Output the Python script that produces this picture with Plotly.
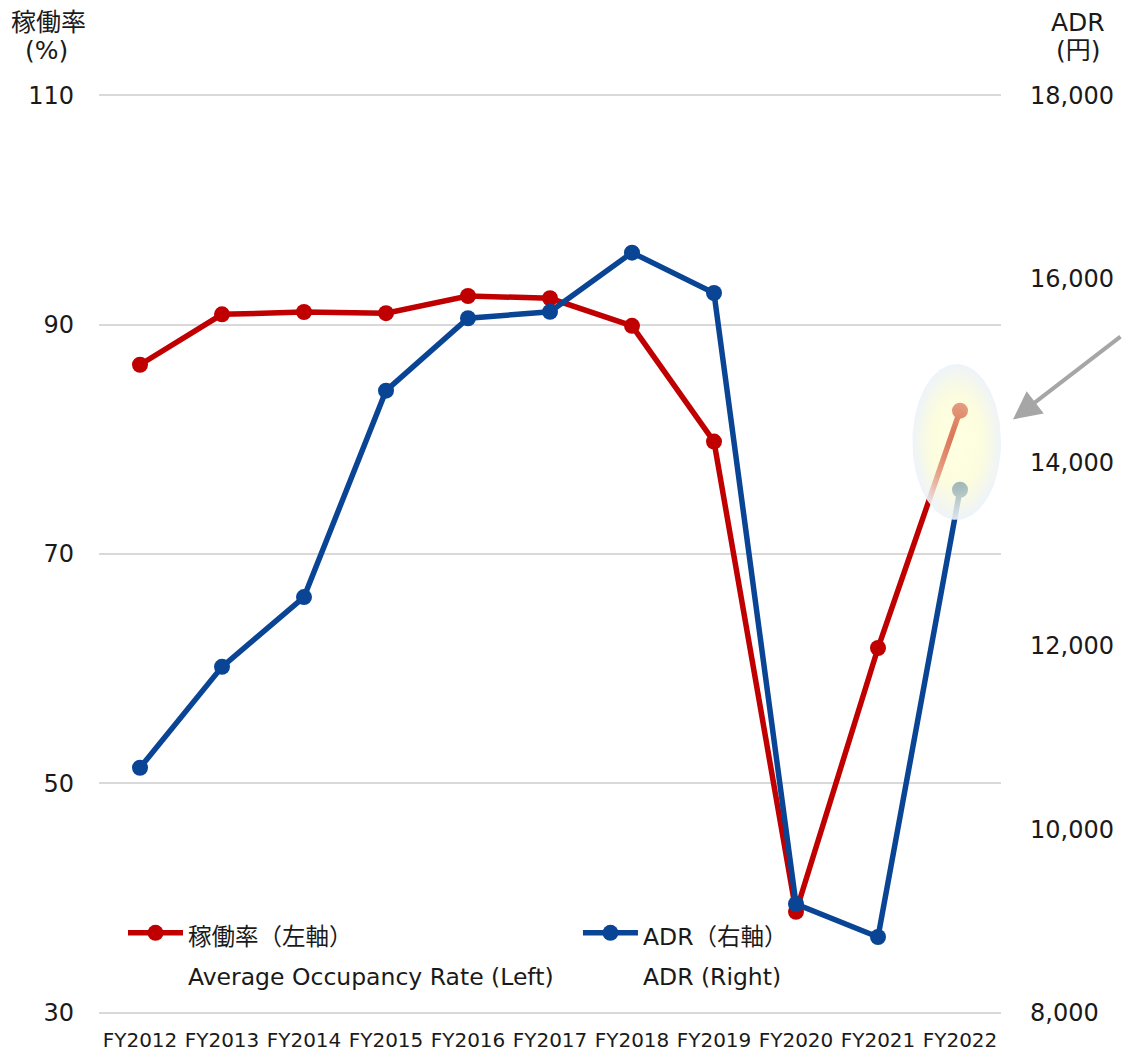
import numpy as np
import plotly.graph_objects as go

# Fiscal years and the two series (occupancy on the left axis, ADR on the right)
fiscal_years = ["FY2012", "FY2013", "FY2014", "FY2015", "FY2016", "FY2017",
                "FY2018", "FY2019", "FY2020", "FY2021", "FY2022"]
occupancy_rate = [86.5, 90.9, 91.1, 91.0, 92.5, 92.3, 89.9, 79.8, 38.8, 61.8, 82.5]
adr_yen = [10670, 11770, 12530, 14780, 15570, 15640, 16285, 15845, 9185, 8825, 13700]

occ_ticks = [30, 50, 70, 90, 110]
adr_ticks = [8000, 10000, 12000, 14000, 16000, 18000]

occ_label = ["稼働率（左軸）", "Average Occupancy Rate (Left)"]
adr_label = ["ADR（右軸）", "ADR (Right)"]

RED = "#C00000"
BLUE = "#0A4595"
FONT = "DejaVu Sans, Noto Sans CJK JP, sans-serif"
TEXT = "#1a1a1a"


def legend_name(lines, size=23.5):
    # legend text at a smaller size than the legend font, which sets the line pitch
    return "<br>".join(f'<span style="font-size:{size}px">{s}</span>' for s in lines)


xpos = list(range(len(fiscal_years)))

fig = go.Figure()

fig.add_trace(go.Scatter(
    x=xpos, y=occupancy_rate, name=legend_name(occ_label), mode="lines+markers",
    line=dict(color=RED, width=5.5), marker=dict(color=RED, size=16),
    yaxis="y", legend="legend",
))
fig.add_trace(go.Scatter(
    x=xpos, y=adr_yen, name=legend_name(adr_label), mode="lines+markers",
    line=dict(color=BLUE, width=5.5), marker=dict(color=BLUE, size=16),
    yaxis="y2", legend="legend2",
))

# Axis ranges; a small pad keeps the end gridlines inside the plot area
occ_lo, occ_hi = occ_ticks[0], occ_ticks[-1]
adr_lo, adr_hi = adr_ticks[0], adr_ticks[-1]
scale = (adr_hi - adr_lo) / (occ_hi - occ_lo)
pad = 0.2
occ_range = [occ_lo - pad, occ_hi + pad]
adr_range = [adr_lo - pad * scale, adr_hi + pad * scale]

# Soft glow over the latest year: an ellipse around both FY2022 points
last = len(fiscal_years) - 1
occ_last_on_adr = adr_lo + (occupancy_rate[last] - occ_lo) * scale
glow_cx = last - 0.04
glow_cy = (occ_last_on_adr + adr_yen[last]) / 2 + 90
glow_rx, glow_ry = 0.54, 850
t = np.linspace(0, 2 * np.pi, 121)
fig.add_trace(go.Scatter(
    x=glow_cx + glow_rx * np.cos(t), y=glow_cy + glow_ry * np.sin(t),
    mode="lines", line=dict(width=0), fill="toself",
    fillgradient=dict(type="radial", colorscale=[
        [0.0, "rgba(255,255,185,0.42)"],
        [0.6, "rgba(250,250,208,0.66)"],
        [1.0, "rgba(236,242,250,0.92)"],
    ]),
    yaxis="y2", showlegend=False, hoverinfo="skip",
))

legend_common = dict(
    orientation="h", xanchor="left", y=0.118, yanchor="top",
    valign="top", bgcolor="rgba(0,0,0,0)", borderwidth=0, itemwidth=55,
    font=dict(size=31, color=TEXT, family=FONT),
)

fig.update_layout(
    width=1124, height=1053,
    margin=dict(l=99, r=123, t=93, b=38, autoexpand=False),
    paper_bgcolor="white", plot_bgcolor="white",
    font=dict(family=FONT, color=TEXT),
    xaxis=dict(
        range=[-0.5, len(fiscal_years) - 0.5],
        tickmode="array", tickvals=xpos, ticktext=fiscal_years,
        showgrid=False, zeroline=False, showline=False, ticks="",
        tickfont=dict(size=20, color=TEXT), ticklabelstandoff=11,
        automargin=False,
    ),
    yaxis=dict(
        range=occ_range, tickvals=occ_ticks,
        showgrid=True, gridcolor="#D9D9D9", gridwidth=2,
        zeroline=False, showline=False, ticks="",
        tickfont=dict(size=24, color=TEXT), ticklabelstandoff=24,
        automargin=False,
    ),
    yaxis2=dict(
        range=adr_range, tickvals=adr_ticks, tickformat=",",
        overlaying="y", side="right",
        showgrid=False, zeroline=False, showline=False, ticks="",
        tickfont=dict(size=24, color=TEXT), ticklabelstandoff=28,
        automargin=False,
    ),
    legend=dict(x=0.0266, **legend_common),
    legend2=dict(x=0.531, **legend_common),
    showlegend=True,
)

# Axis unit labels above each axis
for txt, x, y in [("稼働率", -0.056, 1.077), ("(%)", -0.058, 1.046),
                  ("ADR", 1.0854, 1.077), ("(円)", 1.0854, 1.046)]:
    fig.add_annotation(text=txt, xref="paper", yref="paper", x=x, y=y,
                       xanchor="center", yanchor="middle", showarrow=False,
                       font=dict(size=25, color=TEXT, family=FONT))

# Pointer arrow toward the FY2022 highlight
fig.add_annotation(text="", xref="paper", yref="paper", x=1.0133, y=0.646,
                   ax=109, ay=-84, showarrow=True, arrowhead=2, arrowsize=1.4,
                   arrowwidth=4, arrowcolor="#A6A6A6", standoff=0)

fig.write_html("out.html")
